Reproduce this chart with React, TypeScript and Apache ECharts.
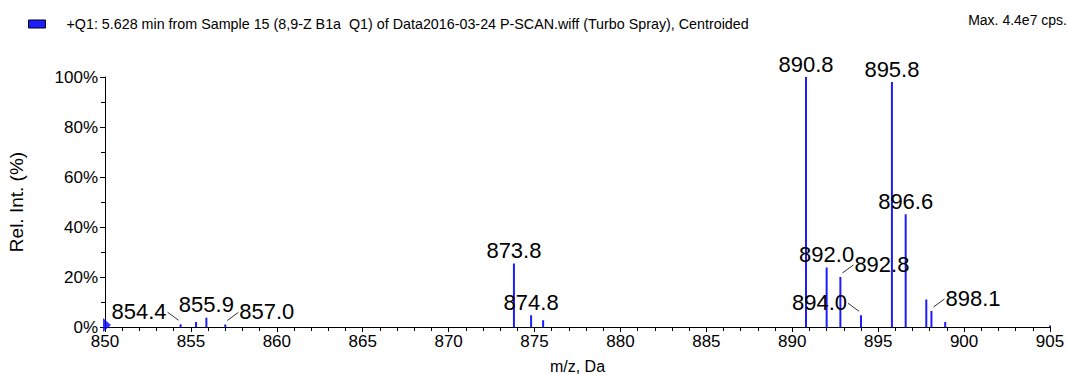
import React, { useEffect, useRef } from "react";
import * as echarts from "echarts";

// Scan header texts
const SCAN_TITLE =
  "+Q1: 5.628 min from Sample 15 (8,9-Z B1a  Q1) of Data2016-03-24 P-SCAN.wiff (Turbo Spray), Centroided";
const MAX_TEXT = "Max. 4.4e7 cps.";

// Centroided peaks: m/z and relative intensity (%)
const peakMz = [
  854.4, 855.3, 855.9, 857.0, 873.8, 874.8, 875.5, 890.8, 892.0, 892.8, 894.0,
  895.8, 896.6, 897.8, 898.1, 898.9, 905.0,
];
const peakIntensity = [
  1.1, 2.0, 3.7, 1.0, 25.4, 4.7, 2.7, 100, 23.8, 20.0, 4.7, 98.0, 45.1, 11.0,
  6.4, 2.0, 0.6,
];

// Peaks annotated directly above the stick
const labelledAbove = [855.9, 873.8, 874.8, 890.8, 892.0, 895.8, 896.6];
// Peaks annotated beside the stick with a leader line
const labelledAside = [854.4, 857.0, 892.8, 894.0, 898.1];
// Which side each side-label sits on (-1 left, +1 right)
const asideSide = [-1, 1, 1, -1, 1];

// Axis ranges
const X_MIN = 850;
const X_MAX = 905;
const X_STEP = 5;
const Y_MIN = 0;
const Y_MAX = 100;
const Y_STEP = 20;

const BAR_COLOR = "#1c1cff";
const FONT = "'Liberation Sans', Arial, Helvetica, sans-serif";
const LABEL_FONT = `22px ${FONT}`;

const pointFor = (mz: number) => [mz, peakIntensity[peakMz.indexOf(mz)]];

export default function App() {
  const ref = useRef<HTMLDivElement>(null);

  useEffect(() => {
    if (!ref.current) return;
    const chart = echarts.init(ref.current, undefined, { renderer: "svg" });

    chart.setOption({
      animation: false,
      backgroundColor: "#fff",
      textStyle: { fontFamily: FONT },
      legend: {
        left: 23,
        top: 12,
        data: [{ name: SCAN_TITLE, icon: "rect" }],
        itemWidth: 17,
        itemHeight: 8,
        itemStyle: { borderColor: "#000", borderWidth: 1 },
        selectedMode: false,
        textStyle: {
          fontSize: 14.3,
          color: "#000",
          fontFamily: FONT,
          padding: [0, 0, 0, 16],
        },
      },
      graphic: [
        {
          type: "text",
          right: 1,
          top: 13,
          style: { text: MAX_TEXT, fill: "#000", font: `14px ${FONT}` },
        },
      ],
      grid: { left: 105, right: 18, top: 77, bottom: 47, outerBoundsMode: "none" },
      xAxis: {
        type: "value",
        min: X_MIN,
        max: X_MAX,
        interval: X_STEP,
        name: "m/z, Da",
        nameLocation: "middle",
        nameGap: 31,
        nameTextStyle: { fontSize: 16, color: "#000", fontFamily: FONT },
        axisLine: { show: true, onZero: false, lineStyle: { color: "#000", width: 1 } },
        axisTick: { show: true, length: 5, lineStyle: { color: "#000" } },
        minorTick: { show: true, splitNumber: 5, length: 4, lineStyle: { color: "#000" } },
        axisLabel: { fontSize: 17, color: "#000", margin: 6, fontFamily: FONT },
        splitLine: { show: false },
      },
      yAxis: {
        type: "value",
        min: Y_MIN,
        max: Y_MAX,
        interval: Y_STEP,
        name: "Rel. Int. (%)",
        nameLocation: "middle",
        nameGap: 79,
        nameTextStyle: { fontSize: 19, color: "#000", fontFamily: FONT },
        axisLine: { show: true, lineStyle: { color: "#000", width: 1 } },
        axisTick: { show: true, length: 5, lineStyle: { color: "#000" } },
        minorTick: { show: true, splitNumber: 2, length: 4, lineStyle: { color: "#000" } },
        axisLabel: {
          fontSize: 17,
          color: "#000",
          margin: 7,
          fontFamily: FONT,
          formatter: "{value}%",
        },
        splitLine: { show: false },
      },
      series: [
        {
          name: SCAN_TITLE,
          type: "custom",
          itemStyle: { color: BAR_COLOR },
          encode: { x: 0, y: 1 },
          data: peakMz.map((mz, i) => [mz, peakIntensity[i]]),
          renderItem: (_params: any, api: any) => {
            const top = api.coord([api.value(0), api.value(1)]);
            const base = api.coord([api.value(0), 0]);
            return {
              type: "line",
              shape: { x1: base[0], y1: base[1], x2: top[0], y2: top[1] },
              style: { stroke: BAR_COLOR, lineWidth: 2 },
            };
          },
          z: 2,
        },
        {
          name: "labels-above",
          type: "custom",
          silent: true,
          encode: { x: 0, y: 1 },
          data: labelledAbove.map(pointFor),
          renderItem: (_params: any, api: any) => {
            const mz = api.value(0);
            const top = api.coord([mz, api.value(1)]);
            return {
              type: "text",
              x: top[0],
              y: top[1] - 2,
              style: {
                text: mz.toFixed(1),
                font: LABEL_FONT,
                fill: "#000",
                textAlign: "center",
                textVerticalAlign: "bottom",
              },
            };
          },
          z: 3,
        },
        {
          name: "labels-aside",
          type: "custom",
          silent: true,
          encode: { x: 0, y: 1 },
          data: labelledAside.map(pointFor),
          renderItem: (params: any, api: any) => {
            const mz = api.value(0);
            const top = api.coord([mz, api.value(1)]);
            const s = asideSide[params.dataIndex];
            return {
              type: "group",
              children: [
                {
                  type: "line",
                  shape: {
                    x1: top[0] + s * 2,
                    y1: top[1] - 4,
                    x2: top[0] + s * 13,
                    y2: top[1] - 12,
                  },
                  style: { stroke: "#333", lineWidth: 1 },
                },
                {
                  type: "text",
                  x: top[0] + s * 14,
                  y: top[1] - 2,
                  style: {
                    text: mz.toFixed(1),
                    font: LABEL_FONT,
                    fill: "#000",
                    textAlign: s < 0 ? "right" : "left",
                    textVerticalAlign: "bottom",
                  },
                },
              ],
            };
          },
          z: 3,
        },
        {
          name: "origin-marker",
          type: "scatter",
          silent: true,
          symbol: "triangle",
          symbolSize: [14, 8],
          symbolRotate: -90,
          symbolOffset: [2, -2],
          itemStyle: { color: "#0000ff" },
          data: [[X_MIN, Y_MIN]],
          z: 4,
        },
      ],
    });

    return () => chart.dispose();
  }, []);

  return (
    <div
      ref={ref}
      style={{ position: "absolute", left: 0, top: 0, width: 1068, height: 374 }}
    />
  );
}
